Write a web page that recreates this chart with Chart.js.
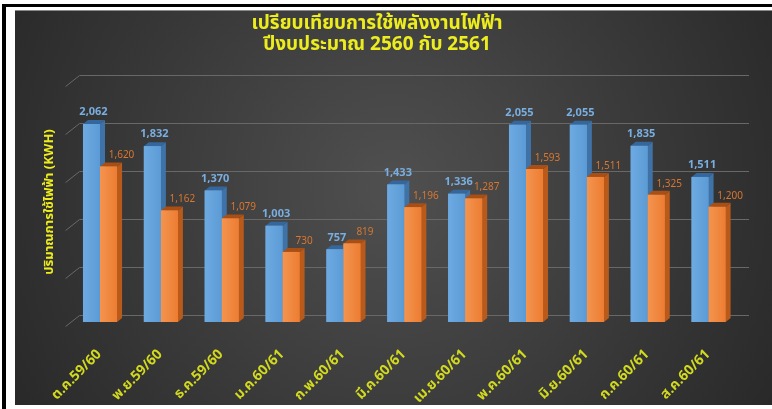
<!DOCTYPE html>
<html>
<head>
<meta charset="utf-8">
<script src="https://cdn.jsdelivr.net/npm/chart.js@4"></script>
<style>
    body { margin: 0; background: #fff; width: 772px; height: 409px; overflow: hidden; position: relative; }
    #frameTop { position: absolute; left: 2px; top: 4px; width: 770px; height: 3px; background: #000; }
    #frameLeft { position: absolute; left: 2px; top: 4px; width: 4px; height: 405px; background: #000; }
    #chartBox { position: absolute; left: 15px; top: 10px; width: 757px; height: 395px; }
</style>
</head>
<body>
<div id="frameTop"></div>
<div id="frameLeft"></div>
<div id="chartBox"><canvas id="energyChart" width="757" height="395"></canvas></div>
<script>
var months = ['ต.ค.59/60', 'พ.ย.59/60', 'ธ.ค.59/60', 'ม.ค.60/61', 'ก.พ.60/61', 'มี.ค.60/61',
    'เม.ย.60/61', 'พ.ค.60/61', 'มิ.ย.60/61', 'ก.ค.60/61', 'ส.ค.60/61'];
var fy2560 = [2062, 1832, 1370, 1003, 757, 1433, 1336, 2055, 2055, 1835, 1511];
var fy2561 = [1620, 1162, 1079, 730, 819, 1196, 1287, 1593, 1511, 1325, 1200];
var yMax = 2500;
var yStep = 500;

var thaiFont = "'Noto Sans Thai', 'Noto Sans', 'DejaVu Sans', sans-serif";
var yellow = '#eded1e';

// colours for front / side / top faces and value labels
var faces = [
    {front: '#5b9bd5', light: '#6eaae2', side: '#3f73a8', top: '#35679c', label: '#79aee0'},
    {front: '#ed7d31', light: '#f39450', side: '#b95a1b', top: '#a94f15', label: '#d9762f'}
];

var depthX = 5, depthY = 4;

var fakeThreeD = {
    id: 'fakeThreeD',
    beforeDraw: function (chart) {
        var ctx = chart.ctx;
        var w = chart.width, h = chart.height;
        var g = ctx.createRadialGradient(w * 0.5, h * 0.45, 20, w * 0.5, h * 0.45, w * 0.62);
        g.addColorStop(0, '#4e4e4e');
        g.addColorStop(1, '#262626');
        ctx.save();
        ctx.fillStyle = g;
        ctx.fillRect(0, 0, w, h);
        ctx.fillStyle = '#8a8a8a';
        ctx.fillRect(0, 0, w, 1);
        ctx.restore();
    },
    beforeDatasetsDraw: function (chart) {
        var ctx = chart.ctx;
        var area = chart.chartArea;
        var yScale = chart.scales.y;
        ctx.save();
        // back wall gridlines with a slanted side part
        ctx.strokeStyle = '#686868';
        ctx.lineWidth = 1;
        $each(yScale.ticks, function (t) {
            var yb = Math.round(yScale.getPixelForValue(t.value) - 7) + 0.5;
            ctx.beginPath();
            ctx.moveTo(area.left - 4, yb + 11);
            ctx.lineTo(area.left + 10, yb);
            ctx.lineTo(area.right + 10, yb);
            ctx.stroke();
        });
        // side and top faces go under the fronts
        for (var i = 0; i < chart.data.datasets.length; i++) {
            var meta = chart.getDatasetMeta(i);
            var f = faces[i];
            $each(meta.data, function (bar) {
                var p = bar.getProps(['x', 'y', 'base', 'width']);
                var l = p.x - p.width / 2, r = p.x + p.width / 2;
                ctx.fillStyle = f.side;
                ctx.beginPath();
                ctx.moveTo(r, p.y);
                ctx.lineTo(r + depthX, p.y - depthY);
                ctx.lineTo(r + depthX, p.base - depthY);
                ctx.lineTo(r, p.base);
                ctx.closePath();
                ctx.fill();
                ctx.fillStyle = f.top;
                ctx.beginPath();
                ctx.moveTo(l, p.y);
                ctx.lineTo(l + depthX, p.y - depthY);
                ctx.lineTo(r + depthX, p.y - depthY);
                ctx.lineTo(r, p.y);
                ctx.closePath();
                ctx.fill();
            });
        }
        ctx.restore();
    },
    afterDatasetsDraw: function (chart) {
        var ctx = chart.ctx;
        ctx.save();
        // lighter left half on each front, like the office shading
        for (var i = 0; i < chart.data.datasets.length; i++) {
            var meta = chart.getDatasetMeta(i);
            var f = faces[i];
            $each(meta.data, function (bar) {
                var p = bar.getProps(['x', 'y', 'base', 'width']);
                var l = p.x - p.width / 2;
                var g = ctx.createLinearGradient(l, 0, l + p.width, 0);
                g.addColorStop(0, f.light);
                g.addColorStop(1, f.front);
                ctx.fillStyle = g;
                ctx.fillRect(l, p.y, p.width, p.base - p.y);
            });
        }
        ctx.textAlign = 'center';
        ctx.textBaseline = 'middle';
        for (var i = 0; i < chart.data.datasets.length; i++) {
            var meta = chart.getDatasetMeta(i);
            var vals = chart.data.datasets[i].data;
            ctx.fillStyle = faces[i].label;
            ctx.font = (i == 0 ? 'bold 11px ' : '10px ') + thaiFont;
            $each(meta.data, function (bar, j) {
                var dx = i == 0 ? 2 : 13;
                var dy = i == 0 ? 11 : 10;
                ctx.fillText(vals[j].toLocaleString('en-US'), bar.x + dx, bar.y - dy);
            });
        }
        ctx.restore();
    }
};

function $each(arr, fn) {
    for (var k = 0; k < arr.length; k++) {
        fn(arr[k], k);
    }
}

var ctx = document.getElementById('energyChart');

var energyChart = new Chart(ctx, {
    type: 'bar',
    data: {
        labels: months,
        datasets: [{
                label: 'ปีงบประมาณ 2560',
                data: fy2560,
                backgroundColor: faces[0].front,
                barPercentage: 1,
                categoryPercentage: 0.56
            }, {
                label: 'ปีงบประมาณ 2561',
                data: fy2561,
                backgroundColor: faces[1].front,
                barPercentage: 1,
                categoryPercentage: 0.56
            }]
    },
    options: {
        responsive: false,
        animation: false,
        layout: {padding: {left: 0, right: 33, top: 0, bottom: 0}},
        plugins: {
            legend: {display: false},
            tooltip: {enabled: false},
            title: {
                display: true,
                text: ['เปรียบเทียบการใช้พลังงานไฟฟ้า', 'ปีงบประมาณ 2560 กับ 2561'],
                color: yellow,
                font: {family: thaiFont, size: 19, weight: 'bold', lineHeight: 1.1},
                padding: {top: 4.5, bottom: 25.7}
            }
        },
        scales: {
            x: {
                grid: {display: false},
                border: {display: false},
                ticks: {
                    color: '#d2da1e',
                    font: {family: thaiFont, size: 14, weight: 'bold'},
                    minRotation: 45,
                    maxRotation: 45,
                    padding: 17
                },
                afterFit: function (scale) {
                    scale.height = 83;
                }
            },
            y: {
                min: 0,
                max: yMax,
                ticks: {stepSize: yStep, display: false},
                grid: {display: false},
                border: {display: false},
                title: {
                    display: true,
                    text: 'ปริมาณการใช้ไฟฟ้า (KWH)',
                    color: yellow,
                    font: {family: thaiFont, size: 13, weight: 'bold'},
                    padding: {top: 28, bottom: 0}
                },
                afterFit: function (scale) {
                    scale.width = 54.6;
                }
            }
        }
    },
    plugins: [fakeThreeD]
});
</script>
</body>
</html>
